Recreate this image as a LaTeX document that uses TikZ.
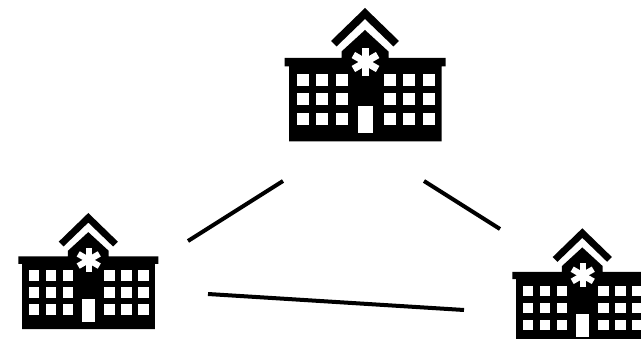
\documentclass[tikz,border=0pt]{standalone}
\usepackage{tikz}
\usetikzlibrary{positioning}
\tikzset{
    hospital/.pic={
        % coordinates are measured from the roof apex
        \fill[black] (0,0) -- (34,33) -- (28.5,38.5) -- (0,11) -- (-28.5,38.5) -- (-34,33) -- cycle;
        \fill[black] (0,22) -- (23.5,43.5) -- (23.5,50) -- (80.5,50) -- (80.5,58.5) -- (76.5,58.5)
            -- (76.5,133.5) -- (-76,133.5) -- (-76,58.5) -- (-80.5,58.5) -- (-80.5,50)
            -- (-23.5,50) -- (-23.5,43.5) -- cycle;
        \foreach \wx in {-68.5,-49,-29.5,18.5,38,57.5}
            \foreach \wy in {66,85.5,105}
                \fill[white] (\wx,\wy) rectangle ++(12,12);
        \fill[white] (-7.5,98.5) rectangle (7.5,125);
        \foreach \ang in {0,60,120}
            \fill[white, rotate around={\ang:(0.5,54)}] (-3,40) rectangle (4,68);
    }
}
\begin{document}
\begin{tikzpicture}[
    x=1pt, y=-1pt,
    link/.style={-, line width=4pt, black}
]
    \useasboundingbox (0,0) rectangle (641,339);
    \pic[scale=1] (hospTop) at (365,8) {hospital};
    \pic[scale=0.87] (hospLeft) at (88.3,213) {hospital};
    \pic[scale=0.87] (hospRight) at (582.3,228.3) {hospital};

    \coordinate (topL) at (283,181);
    \coordinate (leftT) at (188,241);
    \coordinate (topR) at (424,181);
    \coordinate (rightT) at (500,229);
    \coordinate (leftR) at (208,294);
    \coordinate (rightL) at (464,310);

    \draw[link] (leftT) -- (topL);
    \draw[link] (topR) -- (rightT);
    \draw[link] (leftR) -- (rightL);
\end{tikzpicture}
\end{document}
